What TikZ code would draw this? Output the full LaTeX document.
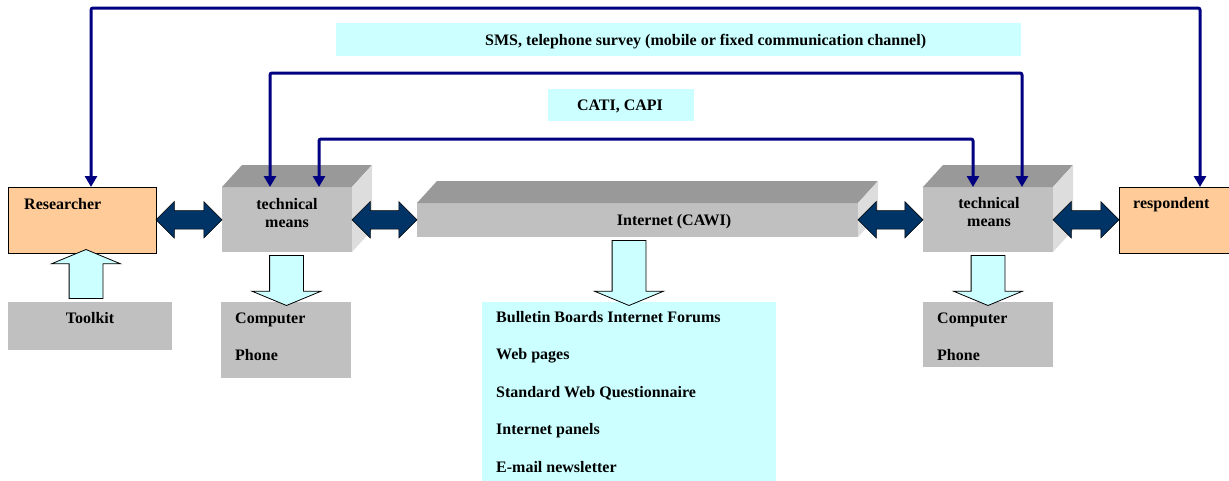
\documentclass[tikz,border=0pt]{standalone}
\usepackage{fontspec}
\setmainfont{Liberation Serif}
\usetikzlibrary{arrows.meta,shapes.arrows,calc}

\definecolor{peach}{HTML}{FFCC99}
\definecolor{frontgray}{HTML}{C0C0C0}
\definecolor{topgray}{HTML}{999999}
\definecolor{sidegray}{HTML}{DDDDDD}
\definecolor{paleblue}{HTML}{CCFFFF}
\definecolor{darknavy}{HTML}{003366}
\definecolor{linknavy}{HTML}{000080}

\tikzset{
  box/.style={inner sep=0, outer sep=0},
  lbl/.style={inner sep=0, font=\bfseries\fontsize{16}{18}\selectfont},
  link/.style={draw=linknavy, line width=3pt, rounded corners=2pt,
    {Triangle[width=12pt,length=11pt]}-{Triangle[width=12pt,length=11pt]}},
  dblarrow/.style={double arrow, fill=darknavy, draw=black, line width=0.5pt,
    inner xsep=0, inner ysep=9pt, minimum width=36pt, double arrow head extend=9pt},
  blkarrow/.style={single arrow, fill=paleblue, draw=black, line width=0.8pt,
    inner xsep=0, inner ysep=16.5pt, minimum width=68pt, single arrow head extend=17.5pt,
    single arrow tip angle=135}
}

\begin{document}
\begin{tikzpicture}[x=1pt,y=-1pt]
            \useasboundingbox (0,0) rectangle (1229,480);

            % boxes
            \node[box, fill=peach, draw=black, line width=0.8pt, minimum width=148, minimum height=66] (res) at (82,220) {};
            \node[box, fill=frontgray, minimum width=130, minimum height=65] (tml) at (287,219.5) {};
            \node[box, fill=frontgray, minimum width=441, minimum height=34] (inet) at (637.5,220) {};
            \node[box, fill=frontgray, minimum width=130, minimum height=65] (tmr) at (988,219.5) {};
            \node[box, fill=peach, draw=black, line width=0.8pt, minimum width=122, minimum height=66] (resp) at (1180,220) {};
            \node[box, fill=frontgray, minimum width=164, minimum height=48] (tk) at (90,326) {};
            \node[box, fill=frontgray, minimum width=130, minimum height=76] (cpl) at (286,340) {};
            \node[box, fill=frontgray, minimum width=130, minimum height=65] (cpr) at (988,334.5) {};
            \node[box, fill=paleblue, minimum width=294, minimum height=182] (list) at (629,393) {};
            \node[box, fill=paleblue, minimum width=685, minimum height=33] (sms) at (678,39.5) {};
            \node[box, fill=paleblue, minimum width=146, minimum height=32] (cati) at (621,105) {};

            % 3d faces
            \foreach \n in {tml,inet,tmr}{
                \fill[topgray] (\n.north west) -- ++(20,-22) -- ($(\n.north east)+(20,-22)$) -- (\n.north east) -- cycle;
                \fill[sidegray] (\n.north east) -- ++(20,-22) -- ($(\n.south east)+(20,-22)$) -- (\n.south east) -- cycle;
            }

            % labels
            \node[lbl, anchor=base west] (t-res) at (24,209) {Researcher};
            \node[lbl, anchor=base] (t-tml1) at (287,209) {technical};
            \node[lbl, anchor=base] (t-tml2) at (287,227) {means};
            \node[lbl, anchor=base] (t-inet) at (674,225) {Internet (CAWI)};
            \node[lbl, anchor=base] (t-tmr1) at (989,208) {technical};
            \node[lbl, anchor=base] (t-tmr2) at (989,226) {means};
            \node[lbl, anchor=base west] (t-resp) at (1133,208) {respondent};
            \node[lbl, anchor=base] (t-tk) at (90,323) {Toolkit};
            \node[lbl, anchor=base west] (t-cpl1) at (235,323) {Computer};
            \node[lbl, anchor=base west] (t-cpl2) at (235,360) {Phone};
            \node[lbl, anchor=base west] (t-cpr1) at (937,323) {Computer};
            \node[lbl, anchor=base west] (t-cpr2) at (937,360) {Phone};
            \node[lbl, anchor=base west] (t-sms) at (485,45) {SMS, telephone survey (mobile or fixed communication channel)};
            \node[lbl, anchor=base] (t-cati) at (620,110) {CATI, CAPI};
            \foreach \t [count=\i] in {Bulletin Boards Internet Forums, Web pages,
                Standard Web Questionnaire, Internet panels, E-mail newsletter}
                \node[lbl, anchor=base west] (t-list\i) at (496,284.5+37.5*\i) {\t};

            % channels
            \draw[link] ([xshift=9]res.north) -- ++(0,-179) -| ([xshift=20]resp.north);
            \draw[link] ([xshift=-17]tml.north) -- ++(0,-114) -| ([xshift=34]tmr.north);
            \draw[link] ([xshift=32]tml.north) -- ++(0,-48) -| ([xshift=-15]tmr.north);

            % double arrows
            \path (res.east) -- (tml.west) node[midway, dblarrow, minimum height=66] (a1) {};
            \path (tml.east) -- (inet.west) node[midway, dblarrow, minimum height=65] (a2) {};
            \path (inet.east) -- (tmr.west) node[midway, dblarrow, minimum height=65] (a3) {};
            \path (tmr.east) -- (resp.west) node[midway, dblarrow, minimum height=66] (a4) {};

            % block arrows
            \path (tk.north) -- (res.south) node[midway, blkarrow, rotate=90, minimum height=49] (b1) {};
            \path (tml.south) -- (cpl.north) node[midway, blkarrow, rotate=-90, minimum height=50] (b2) {};
            \path (list.north |- inet.south) -- (list.north) node[midway, blkarrow, rotate=-90, minimum height=65] (b3) {};
            \path (tmr.south) -- (cpr.north) node[midway, blkarrow, rotate=-90, minimum height=50] (b4) {};
\end{tikzpicture}
\end{document}
